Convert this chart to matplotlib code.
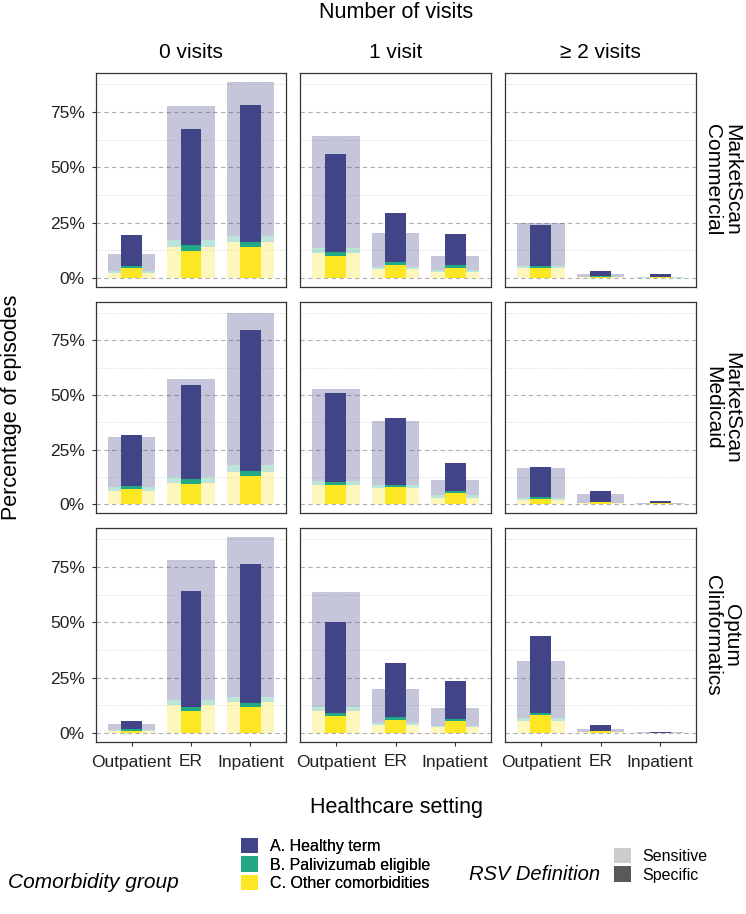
import matplotlib
matplotlib.use("Agg")
import matplotlib.pyplot as plt
from matplotlib.patches import Patch
import numpy as np

plt.rcParams['font.family'] = ['Liberation Sans', 'DejaVu Sans']

# facets and categories
datasets = ["MarketScan\nCommercial", "MarketScan\nMedicaid", "Optum\nClinformatics"]
visits = ["0 visits", "1 visit", "\u2265 2 visits"]
settings = ["Outpatient", "ER", "Inpatient"]
groups = ["A. Healthy term", "B. Palivizumab eligible", "C. Other comorbidities"]
definitions = ["Sensitive", "Specific"]

# percentage of episodes, [dataset][visits][setting]
# Sensitive definition
sens_C = [[[2.4, 14.2, 16.1], [11.3, 4.1, 2.6], [4.8, 0.5, 0.2]],
          [[6.2, 9.8, 14.9], [8.9, 7.5, 3.0], [1.8, 0.6, 0.2]],
          [[0.8, 12.5, 14.0], [9.9, 3.6, 2.6], [5.6, 0.5, 0.1]]]
sens_B = [[[0.9, 3.1, 2.9], [2.3, 0.9, 1.0], [0.9, 0.1, 0.1]],
          [[1.9, 2.5, 2.9], [1.6, 1.5, 1.2], [1.1, 0.2, 0.1]],
          [[0.4, 2.4, 2.5], [1.8, 0.8, 0.7], [1.2, 0.2, 0.05]]]
sens_A = [[[7.7, 60.4, 69.6], [50.7, 15.2, 6.6], [19.0, 1.4, 0.3]],
          [[22.5, 44.9, 69.9], [42.1, 29.1, 7.1], [13.7, 3.7, 0.3]],
          [[2.7, 63.3, 71.9], [51.8, 15.5, 8.0], [25.6, 1.3, 0.15]]]
# Specific definition
spec_C = [[[4.4, 12.3, 13.9], [9.8, 6.0, 4.7], [4.5, 0.6, 0.5]],
          [[6.8, 9.5, 12.9], [8.6, 7.7, 5.0], [2.4, 0.9, 0.4]],
          [[0.9, 10.2, 11.6], [7.8, 6.0, 5.3], [8.0, 0.8, 0.15]]]
spec_B = [[[1.0, 2.8, 2.5], [2.1, 1.4, 1.2], [0.9, 0.2, 0.1]],
          [[1.6, 2.2, 2.5], [1.6, 1.3, 1.3], [0.9, 0.2, 0.1]],
          [[0.8, 1.8, 1.9], [1.3, 1.1, 1.3], [1.2, 0.2, 0.05]]]
spec_A = [[[14.0, 52.1, 61.8], [44.0, 21.8, 14.0], [18.7, 2.5, 1.1]],
          [[23.4, 42.7, 64.3], [40.9, 30.3, 12.4], [13.9, 4.8, 1.0]],
          [[3.9, 52.3, 62.7], [41.1, 24.7, 17.0], [34.8, 2.8, 0.2]]]

colors = ["#414487", "#22A884", "#FDE725"]  # A, B, C
def_colors = ["#CCCCCC", "#595959"]

W, H = 746, 914
fig = plt.figure(figsize=(W / 100, H / 100), dpi=100)

def rect(l, t, r, b):
    return [l / W, 1 - b / H, (r - l) / W, (b - t) / H]

col_px = [(96, 286), (300, 491), (505, 696)]
row_px = [(73, 287), (302, 513), (528, 742)]
x = np.arange(1, len(settings) + 1)

for i, ds in enumerate(datasets):
    for j, vs in enumerate(visits):
        ax = fig.add_axes(rect(col_px[j][0], row_px[i][0], col_px[j][1], row_px[i][1]))
        for (cc, bb, aa), width, alpha in [
                ((sens_C, sens_B, sens_A), 0.8, 0.3),
                ((spec_C, spec_B, spec_A), 0.35, 1.0)]:
            c = np.array(cc[i][j])
            b = np.array(bb[i][j])
            a = np.array(aa[i][j])
            ax.bar(x, c, width=width, color=colors[2], alpha=alpha, zorder=3, linewidth=0)
            ax.bar(x, b, bottom=c, width=width, color=colors[1], alpha=alpha, zorder=3, linewidth=0)
            ax.bar(x, a, bottom=c + b, width=width, color=colors[0], alpha=alpha, zorder=3, linewidth=0)

        ax.set_xlim(0.4, 3.6)
        ax.set_ylim(-4.0, 92.6)
        ax.set_yticks([0, 25, 50, 75])
        ax.set_yticks([12.5, 37.5, 62.5, 87.5], minor=True)
        ax.grid(axis='y', which='major', color='#B0B0B0', linestyle=(0, (4, 3)), linewidth=0.8, zorder=0)
        ax.grid(axis='y', which='minor', color='#D0D0D0', linestyle=(0, (1, 2)), linewidth=0.7, zorder=0)
        ax.tick_params(axis='y', which='minor', length=0)
        ax.set_xticks(x)
        for sp in ax.spines.values():
            sp.set_color('#333333')
            sp.set_linewidth(0.9)
        if j == 0:
            ax.set_yticklabels(["0%", "25%", "50%", "75%"])
            ax.tick_params(axis='y', which='major', length=3, width=0.8, color='#333333',
                           pad=5, labelsize=12.5, labelcolor='#222222')
        else:
            ax.tick_params(axis='y', which='major', length=0, labelleft=False)
        if i == len(datasets) - 1:
            ax.set_xticklabels(settings)
            ax.tick_params(axis='x', length=3, width=0.8, color='#333333',
                           pad=6, labelsize=12.5, labelcolor='#222222')
        else:
            ax.tick_params(axis='x', length=0, labelbottom=False)
        if i == 0:
            xc = (col_px[j][0] + col_px[j][1]) / 2
            fig.text(xc / W, 1 - 52 / H, vs, ha='center', va='center', fontsize=15)
        if j == len(visits) - 1:
            yc = (row_px[i][0] + row_px[i][1]) / 2
            fig.text(722 / W, 1 - yc / H, ds, rotation=-90, ha='center', va='center',
                     multialignment='center', fontsize=15, linespacing=1.0)

fig.text(396 / W, 1 - 12 / H, "Number of visits", ha='center', va='center', fontsize=15.5)
fig.text(12 / W, 1 - 407 / H, "Percentage of episodes", rotation=90,
         ha='center', va='center', fontsize=15.5)
fig.text(396 / W, 1 - 808 / H, "Healthcare setting", ha='center', va='center', fontsize=15.5)

# legends
h1 = [Patch(facecolor=c, edgecolor='none') for c in colors]
leg1 = fig.legend(h1, groups, loc='upper left', bbox_to_anchor=(241 / W, 1 - 838 / H),
                  frameon=False, fontsize=11.5, handlelength=1.05, handleheight=1.1,
                  handletextpad=0.75, labelspacing=0.15, borderpad=0, borderaxespad=0)
h2 = [Patch(facecolor=c, edgecolor='none') for c in def_colors]
leg2 = fig.legend(h2, definitions, loc='upper left', bbox_to_anchor=(614 / W, 1 - 848 / H),
                  frameon=False, fontsize=11.5, handlelength=1.05, handleheight=1.1,
                  handletextpad=0.75, labelspacing=0.15, borderpad=0, borderaxespad=0)
fig.add_artist(leg1)
fig.text(8 / W, 1 - 883 / H, "Comorbidity group", ha='left', va='center',
         fontsize=15, style='italic')
fig.text(600 / W, 1 - 874 / H, "RSV Definition", ha='right', va='center',
         fontsize=14.5, style='italic')

fig.savefig("out.png", dpi=100)
